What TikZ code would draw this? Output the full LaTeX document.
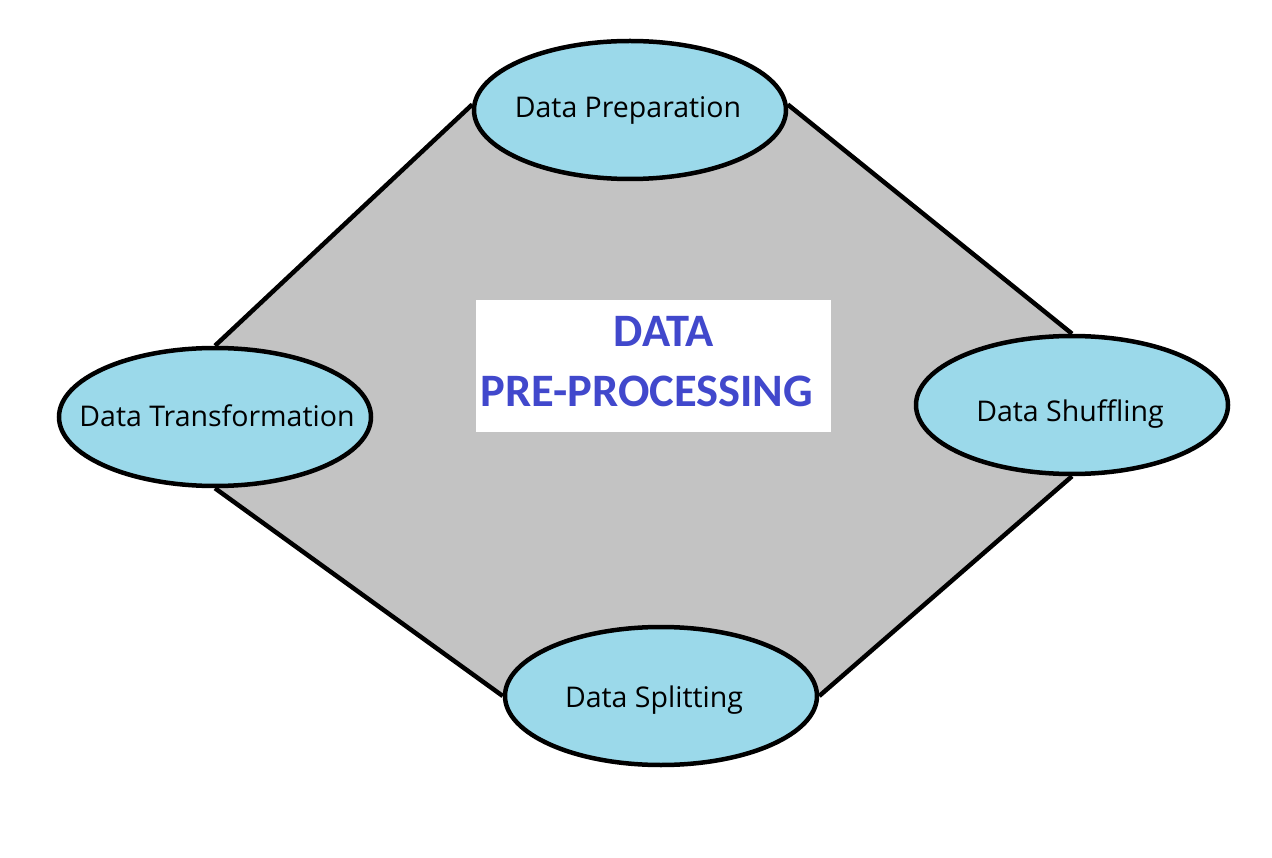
\documentclass[tikz,border=0pt]{standalone}
\usepackage{fontspec}
\setmainfont{Open Sans}
\newfontfamily\titlefont{Carlito}
\usetikzlibrary{shapes.geometric,backgrounds}
\definecolor{ellfill}{RGB}{155,217,234}
\definecolor{polyfill}{RGB}{195,195,195}
\definecolor{titleblue}{RGB}{65,72,204}
\begin{document}
\begin{tikzpicture}[x=1pt,y=-1pt,
  stage/.style={ellipse,draw=black,line width=4.5pt,fill=ellfill,
    minimum width=312pt,minimum height=138pt,inner sep=0pt},
  stagetext/.style={font=\fontsize{28.5}{33}\selectfont,anchor=base,inner sep=0pt},
  edge/.style={draw=black,line width=4.5pt},
  titletext/.style={font=\titlefont\bfseries\fontsize{46.5}{52}\selectfont,text=titleblue,anchor=base,inner sep=0pt}]
\useasboundingbox (0,0) rectangle (1272,858);
\node[stage] (prep) at (630,110) {};
\node[stage] (trans) at (215,417) {};
\node[stage] (shuf) at (1072,405) {};
\node[stage] (split) at (661,696) {};
\node[stagetext] (prepT) at (628,118) {Data Preparation};
\node[stagetext] (transT) at (217,427) {Data Transformation};
\node[stagetext] (shufT) at (1070,421) {Data Shuffling};
\node[stagetext] (splitT) at (654,707) {Data Splitting};
\node[fill=white,minimum width=355pt,minimum height=132pt,inner sep=0pt] (box) at (653,366.5) {};
\node[titletext] (t1) at (664,347) {DATA};
\node[titletext] (t2) at (647,407) {PRE-PROCESSING};
\begin{scope}[on background layer]
\fill[white] (0,0) rectangle (1272,858);
\fill[polyfill] (prep.178) -- (prep.2) -- (shuf.north) -- (shuf.south) -- (split.east) -- (split.west) -- (trans.south) -- (trans.north) -- cycle;
\draw[edge] (prep.178) -- (trans.north);
\draw[edge] (prep.2) -- (shuf.north);
\draw[edge] (shuf.south) -- (split.east);
\draw[edge] (split.west) -- (trans.south);
\end{scope}
\end{tikzpicture}
\end{document}
